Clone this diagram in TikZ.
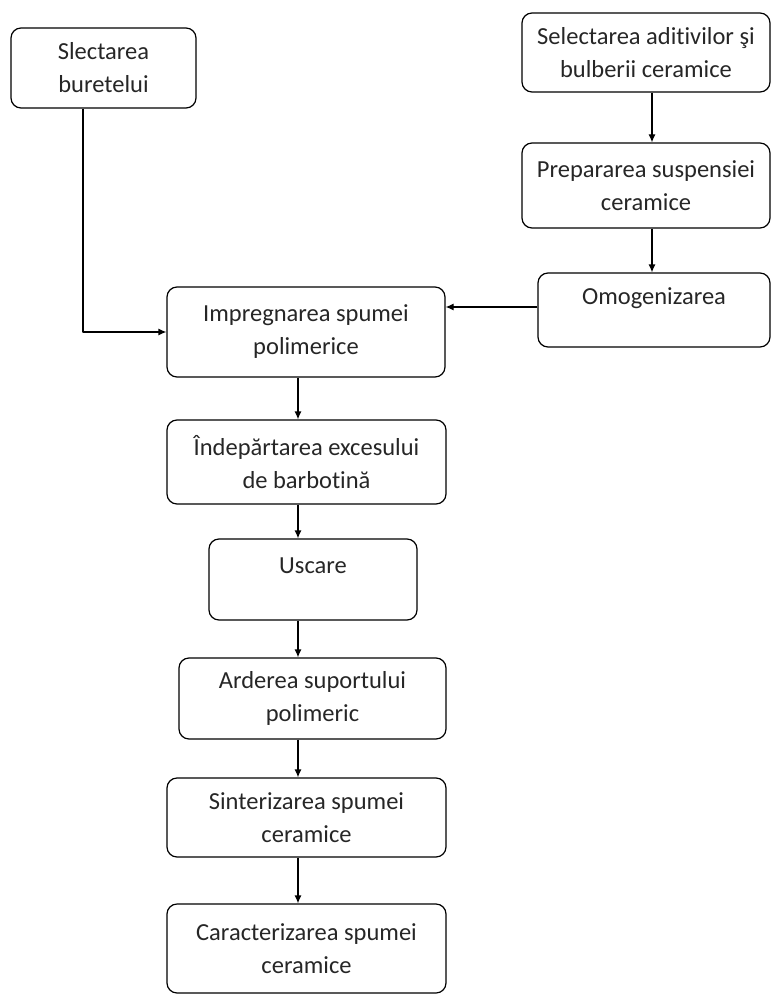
\documentclass[tikz,border=0pt]{standalone}
\usepackage{fontspec}
\setmainfont[Ligatures=NoCommon]{Carlito}
\usetikzlibrary{arrows.meta}
\begin{document}
\begin{tikzpicture}[x=1pt, y=-1pt, line join=round, line width=1.2pt, >={Latex[length=8pt,width=7pt]},
	etapa/.style={draw, rounded corners=10pt, align=center, inner sep=0pt, text=black!85, font=\fontsize{24.5}{33}\selectfont},
	sus/.style={text depth=28pt}]
	\useasboundingbox (0,0) rectangle (772,995);
	\coordinate (col) at (298,0);
	% ramura din stanga si din dreapta
	\node[etapa, minimum width=185pt, minimum height=80pt] (bur) at (103.5,68) {Slectarea\\buretelui};
	\node[etapa, minimum width=248pt, minimum height=79pt] (adit) at (646,52.5) {Selectarea aditivilor şi\\bulberii ceramice};
	\node[etapa, minimum width=248pt, minimum height=85pt] (prep) at (646,185.5) {Prepararea suspensiei\\ceramice};
	\node[etapa, sus, minimum width=232pt, minimum height=74pt] (omog) at (654,310) {Omogenizarea};
	% coloana principala
	\node[etapa, minimum width=278pt, minimum height=90pt] (imp) at (306,332) {Impregnarea spumei\\polimerice};
	\node[etapa, minimum width=279pt, minimum height=84pt] (ind) at (306.5,462) {Îndepărtarea excesului\\de barbotină};
	\node[etapa, sus, minimum width=208pt, minimum height=81pt] (usc) at (313,579.5) {Uscare};
	\node[etapa, minimum width=267pt, minimum height=81pt] (ard) at (312.5,698.5) {Arderea suportului\\polimeric};
	\node[etapa, minimum width=279pt, minimum height=79pt] (sint) at (306.5,817.5) {Sinterizarea spumei\\ceramice};
	\node[etapa, minimum width=279pt, minimum height=89pt] (car) at (306.5,948.5) {Caracterizarea spumei\\ceramice};
	\draw[->] ([xshift=-20.5pt]bur.south) |- (imp.west);
	\draw[->] ([xshift=6pt]adit.south) -- ([xshift=6pt]prep.north);
	\draw[->] ([xshift=6pt]prep.south) -- ([xshift=-2pt]omog.north);
	\draw[->] ([yshift=3pt]omog.west) -- ([yshift=3pt]omog.west -| imp.east);
	\foreach \a/\b in {imp/ind, ind/usc, usc/ard, ard/sint, sint/car}{
		\draw[->] (\a.south -| col) -- (\b.north -| col);
	}
\end{tikzpicture}
\end{document}
